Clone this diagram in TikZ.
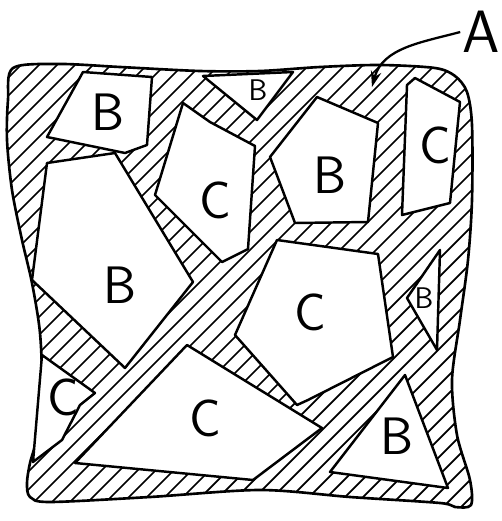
\documentclass[tikz,border=0pt]{standalone}
\usetikzlibrary{arrows.meta}

\begin{document}
\begin{tikzpicture}[
    x=0.02cm, y=-0.02cm,
    font=\sffamily,
    piece/.style={
        draw=black, fill=white,
        line width=1.4pt, line join=round
    },
    boundary/.style={draw=black, line width=1.5pt},
    hatch/.style={draw=black, line width=1pt},
    letter/.style={font=\sffamily\fontsize{30}{32}\selectfont, inner sep=0pt},
    smallletter/.style={font=\sffamily\fontsize{17}{18}\selectfont, inner sep=0pt},
    pointer/.style={draw=black, line width=1.3pt, -{Stealth[length=9pt, width=6pt]}}
]
\useasboundingbox (0,0) rectangle (502,521);

% -------------------------
% 1. Region A: outline and hatching
% -------------------------
\def\regionA{plot[smooth cycle, tension=0.5] coordinates {
    (13,68) (60,64) (120,67) (200,71) (260,71) (320,67) (380,65) (435,68)
    (455,76) (467,92) (472,125) (472,200) (468,260) (460,320) (452,380)
    (457,435) (470,480) (471,505) (455,507) (440,503) (350,497) (260,490)
    (150,497) (50,502) (30,497) (27,483) (30,463) (37,437) (42,390)
    (40,333) (32,283) (22,240) (12,190) (7,140) (8,100)}}
\begin{scope}
    \clip \regionA;
    \foreach \s in {-480,-462,...,480}
        \draw[hatch] (\s,530) -- ++(560,-560);
\end{scope}
\draw[boundary] \regionA;

% -------------------------
% 2. Pieces B
% -------------------------
\draw[piece] (83,72) -- (152,77) -- (147,145) -- (125,153) -- (47,137) -- cycle;
\draw[piece] (203,76) -- (293,72) -- (257,120) -- cycle;
\draw[piece] (317,97) -- (378,123) -- (368,222) -- (295,223) -- (270,157) -- cycle;
\draw[piece] (47,163) -- (115,153) -- (193,282) -- (125,368) -- (32,280) -- cycle;
\draw[piece] (407,298) -- (440,250) -- (437,350) -- cycle;
\draw[piece] (330,472) -- (405,375) -- (448,488) -- cycle;

% -------------------------
% 3. Pieces C
% -------------------------
\draw[piece] (183,103) -- (210,122) -- (255,146) -- (248,249) -- (222,262) -- (155,195) -- cycle;
\draw[piece] (407,85) -- (415,78) -- (460,102) -- (450,203) -- (402,215) -- cycle;
\draw[piece] (277,240) -- (378,254) -- (393,357) -- (308,400) -- (297,405) -- (235,335) -- cycle;
\draw[piece] (187,345) -- (322,428) -- (253,480) -- (75,463) -- cycle;
\draw[piece] (42,355) -- (95,393) -- (80,405) -- (62,440) -- (33,462) -- cycle;

% -------------------------
% 4. Labels
% -------------------------
\node[letter] (Btl) at (108,112) {B};
\node[smallletter] (Btop) at (258,90) {B};
\node[letter] (Bright) at (330,175) {B};
\node[letter] (Bleft) at (120,285) {B};
\node[smallletter] (Bsmall) at (424,298) {B};
\node[letter] (Bbottom) at (397,436) {B};

\node[letter] (Cmid) at (215,200) {C};
\node[letter] (Ctop) at (435,145) {C};
\node[letter] (Ccentre) at (310,312) {C};
\node[letter] (Cbottom) at (205,418) {C};
\node[letter] (Csmall) at (63,397) {C};

% -------------------------
% 5. Pointer to region A
% -------------------------
\node[font=\sffamily\fontsize{34}{36}\selectfont, inner sep=1pt] (A) at (481,32) {A};
\coordinate (Apoint) at (372,87);
\draw[pointer] (A.west) to[out=195, in=75] (Apoint);

\end{tikzpicture}
\end{document}
